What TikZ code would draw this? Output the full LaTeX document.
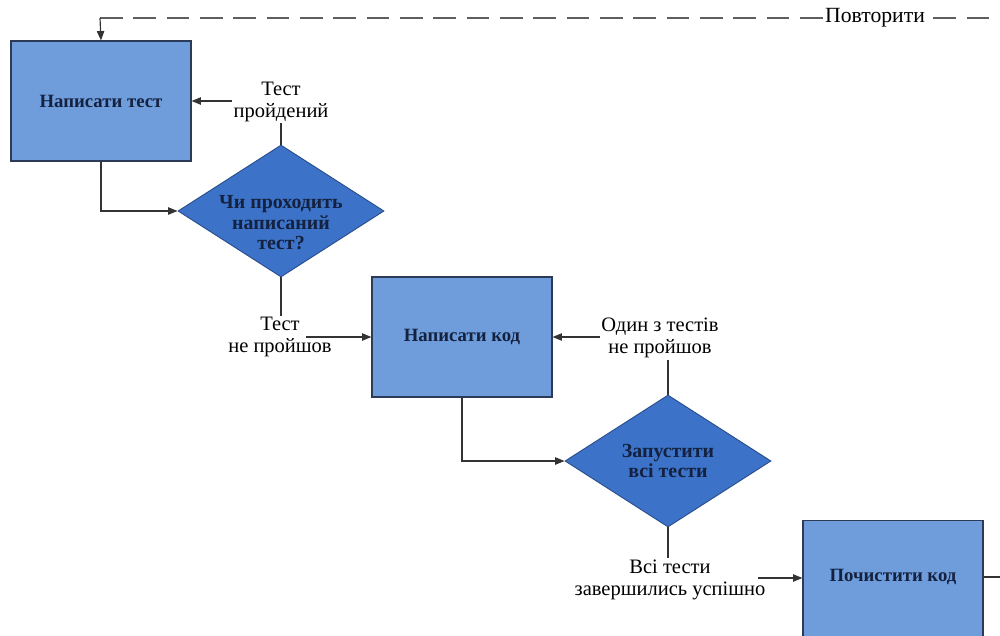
\documentclass[tikz,border=0pt]{standalone}
\usepackage{fontspec}
\setmainfont{Liberation Serif}
\usetikzlibrary{shapes.geometric,arrows.meta}
\definecolor{boxfill}{HTML}{6F9DDB}
\definecolor{diafill}{HTML}{3C73C8}
\definecolor{boxline}{HTML}{2C3A58}
\definecolor{dialine}{HTML}{2B4E8C}
\definecolor{ink}{HTML}{14213F}
\definecolor{conn}{HTML}{333333}
\definecolor{dashc}{HTML}{5E5E5E}
\tikzset{
  stepbox/.style={draw=boxline, line width=1pt, fill=boxfill, minimum width=54mm, minimum height=36mm, inner sep=0pt},
  boxtext/.style={font=\fontsize{16}{18}\selectfont\bfseries, text=ink, inner sep=0pt},
  dia/.style={diamond, draw=dialine, line width=0.8pt, fill=diafill, minimum width=61.8mm, minimum height=39.6mm, inner sep=0pt},
  diatext/.style={align=center, font=\fontsize{17}{17.5}\selectfont\bfseries, text=ink, inner sep=0pt},
  lbl/.style={align=center, font=\fontsize{17.5}{19}\selectfont, text=black, inner sep=1pt},
  conn/.style={draw=conn, line width=1pt},
  arr/.style={conn, -{Triangle[length=2.8mm,width=2.2mm]}},
}
\begin{document}
\begin{tikzpicture}[x=0.3mm, y=-0.3mm]
\useasboundingbox (0,0) rectangle (1000,635);
\clip (0,0) rectangle (1000,635);
% boxes
\node[stepbox] (b1) at (101,101) {};
\node[boxtext] (t1b) at (101,101) {Написати тест};
\node[stepbox] (b2) at (462,337) {};
\node[boxtext] (t2b) at (462,337) {Написати код};
\node[stepbox, anchor=north] (b3) at (893,520) {};
\node[boxtext] (t3b) at (893,577) {Почистити код};
% diamonds
\node[dia] (d1) at (281,211) {};
\node[diatext] (t1) at (281,223) {Чи проходить\\написаний\\тест?};
\node[dia] (d2) at (668,461) {};
\node[diatext] (t2) at (668,461) {Запустити\\всі тести};
% labels
\node[lbl] (l1) at (281,102) {Тест\\пройдений};
\node[lbl] (l2) at (280,337) {Тест\\не пройшов};
\node[lbl] (l3) at (660,338) {Один з тестів\\не пройшов};
\node[lbl] (l4) at (670,580) {Всі тести\\завершились успішно};
\coordinate (a2) at (306,337);
\coordinate (a4) at (758,578);
\coordinate (r) at (1000,577);
\coordinate (rt) at (1000,18);
\coordinate (lt) at (100,18);
% connectors
\draw[arr] (l1.west |- b1.east) -- (b1.east);
\draw[conn] (d1.north) -- (d1.north |- l1.south);
\draw[arr] (b1.south) |- (d1.west);
\draw[conn] (d1.south) -- (d1.south |- l2.north);
\draw[arr] (a2) -- (b2.west);
\draw[arr] (l3.west |- b2.east) -- (b2.east);
\draw[conn] (d2.north) -- (d2.north |- l3.south);
\draw[arr] (b2.south) |- (d2.west);
\draw[conn] (d2.south) -- (d2.south |- l4.north);
\draw[arr] (a4) -- (b3.west |- a4);
\draw[conn] (b3.east |- r) -- (r);
% repeat loop
\draw[draw=dashc, line width=1.6pt, dash pattern=on 6.8mm off 3.2mm] (lt) -- (rt);
\node[fill=white, inner sep=0.5pt, font=\fontsize{18.5}{20}\selectfont] (rep) at (875,18) {Повторити};
\draw[arr] (lt) -- (b1.north);
\end{tikzpicture}
\end{document}
